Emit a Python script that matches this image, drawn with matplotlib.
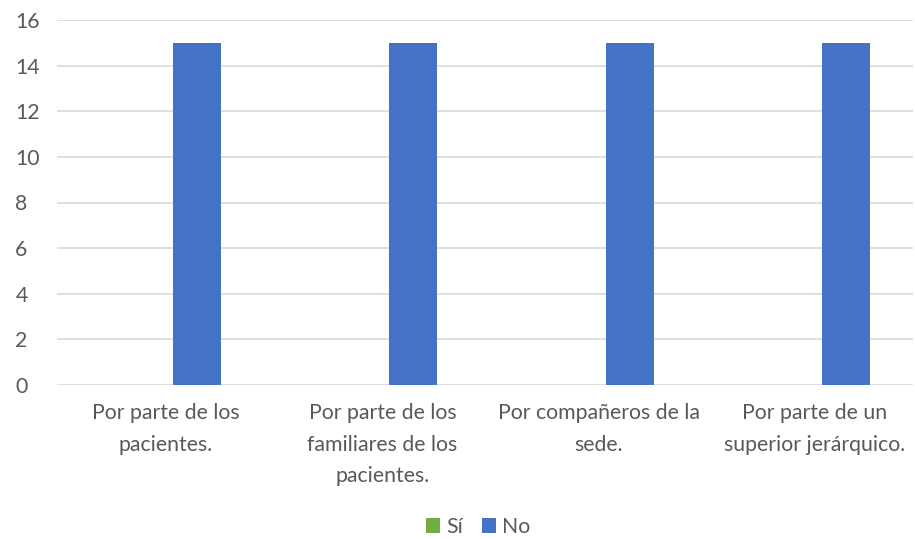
import numpy as np
import matplotlib
matplotlib.use("Agg")
import matplotlib.pyplot as plt

# categories and series
categorias = ["Por parte de los\npacientes.",
              "Por parte de los\nfamiliares de los\npacientes.",
              "Por compañeros de la\nsede.",
              "Por parte de un\nsuperior jerárquico."]
valores_si = [0, 0, 0, 0]
valores_no = [15, 15, 15, 15]
series = ["Sí", "No"]
colores = ["#70AD47", "#4472C4"]
texto = "#595959"

plt.rcParams['font.family'] = ['Lato', 'DejaVu Sans']

fig = plt.figure(figsize=(9.15, 5.39), dpi=100)
ax = fig.add_axes([57 / 915, (539 - 385) / 539, (913 - 57) / 915, 365 / 539])

ind = np.arange(len(categorias))
width = 0.222
offset = 0.1435
ax.bar(ind - offset, valores_si, width, color=colores[0], label=series[0], zorder=3)
ax.bar(ind + offset, valores_no, width, color=colores[1], label=series[1], zorder=3)

ax.set_xlim(-0.504, 3.453)
ax.set_ylim(0, 16)
ax.set_yticks(np.arange(0, 17, 2))
ax.yaxis.grid(True, color="#D9D9D9", linewidth=1.2, zorder=0)
ax.set_xticks(ind)
ax.set_xticklabels(categorias, linespacing=1.72)
ax.tick_params(axis='both', length=0, labelsize=15.3, colors=texto)
ax.tick_params(axis='x', pad=13)
ax.tick_params(axis='y', pad=30)
for lbl in ax.get_yticklabels():
    lbl.set_horizontalalignment('left')
for s in ax.spines.values():
    s.set_visible(False)

ax.legend(loc='center', bbox_to_anchor=(478 / 915, 12 / 539), bbox_transform=fig.transFigure,
          ncol=2, frameon=False, fontsize=15.3, labelcolor=texto, handlelength=0.65, handleheight=0.65,
          handletextpad=0.3, columnspacing=0.9)

fig.savefig("out.png", dpi=100)
